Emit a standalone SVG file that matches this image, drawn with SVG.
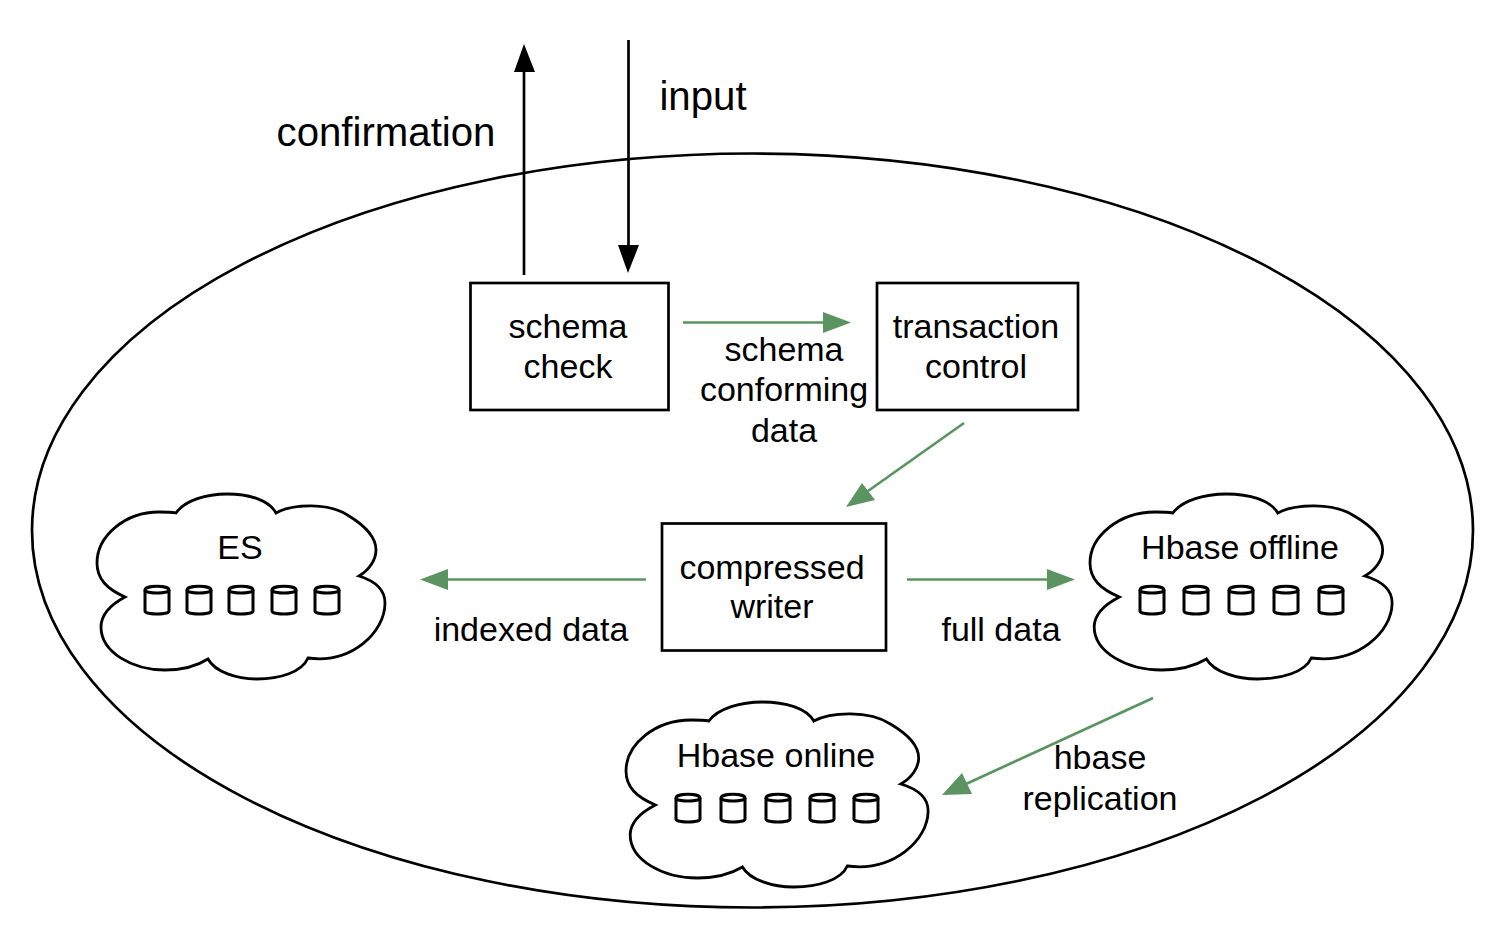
<svg xmlns="http://www.w3.org/2000/svg" width="1505" height="940" viewBox="0 0 1505 940">
<style>
text{font-family:"Liberation Sans",Arial,sans-serif;font-size:34px;fill:#000;text-anchor:middle}
.big{font-size:40.200px}
.box{fill:#fff;stroke:#000;stroke-width:2.700}
.shape{fill:#fff;stroke:#000;stroke-width:2.800;vector-effect:non-scaling-stroke}
.cyl{fill:none;stroke:#000;stroke-width:3}
.k{stroke:#000;stroke-width:2.700;fill:none}
.g{stroke:#5b9460;stroke-width:2.700;fill:none}
</style>
<defs>
<path id="cloud" class="shape" d="M79 19C88 6 110 0 130 0C152 0 172 6 179 19C195 10 232 8 252 22C270 33 279 44 279 56C279 66 272 76 262 82C278 87 288 96 288 109C288 138 255 170 211 164C205 178 183 185 160 185C140 185 118 178 111 165C100 172 85 176 68 176C35 176 4 158 4 133C4 120 15 110 28 103C10 95 0 85 0 69C0 42 28 18 62 18C68 18 74 18 79 19Z"/>
<g id="cyl" class="cyl"><path d="M-12 -10C-12 -15 12 -15 12 -10L12 11C12 15 -12 15 -12 11Z"/><path d="M-12 -10C-12 -6 12 -6 12 -10"/></g>
</defs>
<g id="boundary"><ellipse cx="752.500" cy="530.500" rx="720.500" ry="377" class="box"/></g>
<g id="schema-check"><rect x="470.500" y="283" width="198" height="127" class="box"/><text x="568" y="338">schema</text><text x="568" y="378">check</text></g>
<g id="transaction-control"><rect x="877" y="283" width="201" height="127" class="box"/><text x="976" y="338">transaction</text><text x="976" y="378">control</text></g>
<g id="compressed-writer"><rect x="662" y="523.500" width="224" height="127" class="box"/><text x="772" y="579">compressed</text><text x="772" y="618">writer</text></g>
<g id="es"><use href="#cloud" transform="translate(97 494)"/><text x="240" y="559">ES</text>
<use href="#cyl" x="157" y="600"/><use href="#cyl" x="199" y="600"/><use href="#cyl" x="241" y="600"/><use href="#cyl" x="284" y="600"/><use href="#cyl" x="327" y="600"/></g>
<g id="hbase-offline"><use href="#cloud" transform="translate(1090 494) scale(1.049 1)"/><text x="1240" y="559">Hbase offline</text>
<use href="#cyl" x="1152" y="600"/><use href="#cyl" x="1196" y="600"/><use href="#cyl" x="1241" y="600"/><use href="#cyl" x="1286" y="600"/><use href="#cyl" x="1331" y="600"/></g>
<g id="hbase-online"><use href="#cloud" transform="translate(626 702) scale(1.049 1)"/><text x="776" y="767">Hbase online</text>
<use href="#cyl" x="688" y="808"/><use href="#cyl" x="733" y="808"/><use href="#cyl" x="778" y="808"/><use href="#cyl" x="822" y="808"/><use href="#cyl" x="866" y="808"/></g>
<g id="connectors">
<path class="k" d="M524 275V70"/><path d="M524 44L535 72H514Z"/>
<path class="k" d="M628.500 40V246"/><path d="M628 273L618 245H639Z"/>
<path class="g" d="M683 322.500H825"/><path d="M851 322.500L823 312V333Z" fill="#5b9460"/>
<path class="g" d="M964 423L868 491"/><path d="M846 507L862 483L875 500Z" fill="#5b9460"/>
<path class="g" d="M646 579.500H447"/><path d="M420 579.500L448 569V590Z" fill="#5b9460"/>
<path class="g" d="M907 579.500H1048"/><path d="M1075 579.500L1047 569V590Z" fill="#5b9460"/>
<path class="g" d="M1153 698L966 784"/><path d="M942 795L962 773L972 794Z" fill="#5b9460"/>
</g>
<g id="labels">
<text class="big" x="386" y="146">confirmation</text>
<text class="big" x="703" y="110">input</text>
<text x="784" y="361">schema</text><text x="784" y="401">conforming</text><text x="784" y="442">data</text>
<text x="531" y="641">indexed data</text>
<text x="1001" y="641">full data</text>
<text x="1100" y="769">hbase</text><text x="1100" y="810">replication</text>
</g>
</svg>
